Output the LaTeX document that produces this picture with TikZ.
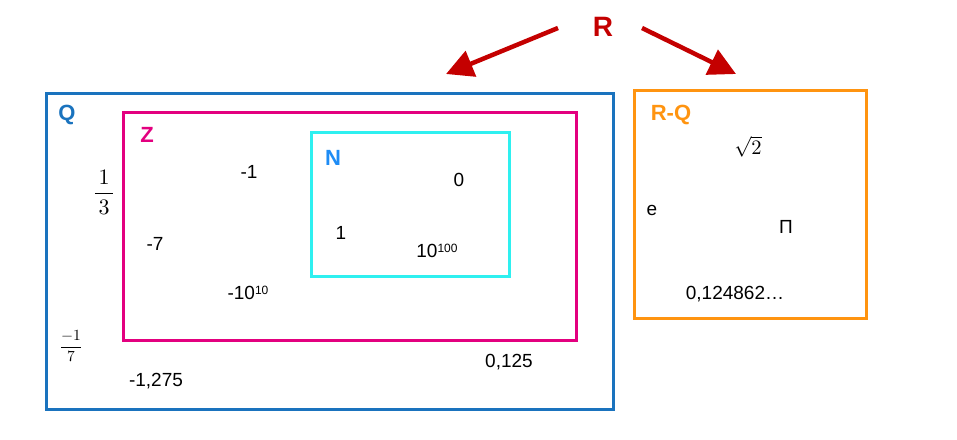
\documentclass[tikz,border=0pt]{standalone}
\usepackage{amsmath}
\usepackage{graphicx}
\usepackage{fontspec}
\setmainfont{Liberation Sans}
\usetikzlibrary{arrows.meta}
\definecolor{qblue}{HTML}{1A73BE}
\definecolor{zmag}{HTML}{E3007F}
\definecolor{ncyan}{HTML}{2EF0F0}
\definecolor{nblue}{HTML}{1E8CF5}
\definecolor{rqor}{HTML}{FF9410}
\definecolor{rred}{HTML}{C40000}
\tikzset{
  setbox/.style={line width=3pt},
  num/.style={inner sep=0pt, font=\fontsize{19}{22}\selectfont},
  setlabel/.style={inner sep=0pt, font=\fontsize{22}{26}\selectfont\bfseries},
  frac/.style={inner sep=0pt, font=\fontsize{10}{12}\selectfont},
  rarrow/.style={rred, line width=4.5pt, -{Triangle[length=27pt,width=27pt]}},
}
\newcommand{\sups}[1]{\raisebox{0.55ex}{\fontsize{12}{14}\selectfont #1}}
\begin{document}
\begin{tikzpicture}[x=1pt,y=-1pt]
\useasboundingbox (0,0) rectangle (957,439);
% boxes
\draw[setbox, qblue] (46,93) rectangle (613,409);
\draw[setbox, zmag] (123,112) rectangle (576,340);
\draw[setbox, ncyan] (311,132) rectangle (509,276);
\draw[setbox, rqor] (634,90) rectangle (866,318);
% labels
\node[setlabel, text=qblue] (lQ) at (67,115) {Q};
\node[setlabel, text=zmag] (lZ) at (147,135) {Z};
\node[setlabel, text=nblue] (lN) at (333,158) {N};
\node[setlabel, text=rqor] (lRQ) at (671,115) {R-Q};
\node[inner sep=0pt, font=\fontsize{28}{32}\selectfont\bfseries, text=rred] (R) at (603,27) {R};
% Q numbers
\node[frac] (f13) at (104,192) {\scalebox{2.2}{$\dfrac{\,1\,}{3}$}};
\node[frac] (fm17) at (71,346) {\scalebox{1.55}{$\dfrac{-1}{7}$}};
\node[num] (n1275) at (156,381) {-1,275};
\node[num] (n0125) at (509,362) {0,125};
% Z numbers
\node[num] (nm1) at (249,172) {-1};
\node[num] (nm7) at (155,244) {-7};
\node[num] (nm1010) at (248,293) {-10\sups{10}};
% N numbers
\node[num] (n0) at (459,180) {0};
\node[num] (n1) at (341,233) {1};
\node[num] (n10100) at (437,251) {10\sups{100}};
% R-Q numbers
\node[frac] (sq2) at (748,147) {\scalebox{2.05}{$\sqrt{2}$}};
\node[num] (ne) at (652,210) {e};
\node[num] (npi) at (786,227) {Π};
\node[num] (ndec) at (735,294) {0,124862…};
% arrows
\coordinate (lt0) at (558,28);
\coordinate (lt1) at (446,74);
\coordinate (rt0) at (642,28);
\coordinate (rt1) at (736,74);
\draw[rarrow] (lt0) -- (lt1);
\draw[rarrow] (rt0) -- (rt1);
\end{tikzpicture}
\end{document}
